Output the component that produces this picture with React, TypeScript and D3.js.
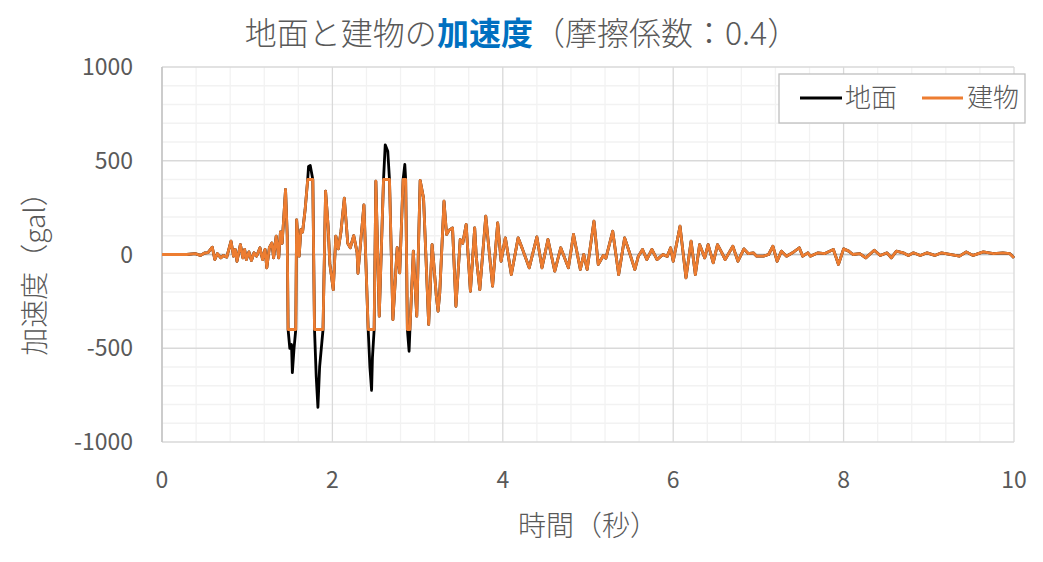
import React from "react";
import * as d3 from "d3";

const times = [
  0, 0.29, 0.39, 0.45, 0.5, 0.54, 0.59, 0.62, 0.65, 0.69, 0.72, 0.76, 0.81, 0.84, 0.86, 0.88, 0.92, 0.95, 0.97, 0.99,
  1.02, 1.05, 1.08, 1.11, 1.15, 1.18, 1.21, 1.23, 1.26, 1.29, 1.31, 1.34, 1.37, 1.39, 1.41, 1.45, 1.47, 1.48, 1.5, 1.52,
  1.53, 1.55, 1.57, 1.58, 1.61, 1.63, 1.65, 1.68, 1.71, 1.72, 1.74, 1.77, 1.79, 1.81, 1.83, 1.85, 1.89, 1.92, 1.95, 1.97,
  2.01, 2.04, 2.07, 2.1, 2.14, 2.18, 2.21, 2.25, 2.29, 2.3, 2.37, 2.39, 2.42, 2.44, 2.46, 2.47, 2.49, 2.51, 2.55, 2.6,
  2.62, 2.65, 2.67, 2.71, 2.73, 2.76, 2.79, 2.83, 2.85, 2.86, 2.88, 2.9, 2.91, 2.95, 2.99, 3.03, 3.07, 3.13, 3.17, 3.19,
  3.22, 3.24, 3.26, 3.31, 3.34, 3.37, 3.41, 3.45, 3.5, 3.53, 3.57, 3.62, 3.67, 3.69, 3.73, 3.8, 3.88, 3.94, 3.98, 4.03,
  4.1, 4.18, 4.23, 4.31, 4.4, 4.46, 4.53, 4.61, 4.68, 4.77, 4.83, 4.91, 4.95, 4.99, 5.07, 5.12, 5.18, 5.21, 5.29, 5.36,
  5.43, 5.48, 5.55, 5.59, 5.64, 5.69, 5.75, 5.81, 5.88, 5.93, 5.97, 6.0, 6.08, 6.15, 6.21, 6.26, 6.31, 6.37, 6.41, 6.47,
  6.52, 6.57, 6.61, 6.7, 6.76, 6.83, 6.88, 6.94, 6.98, 7.06, 7.12, 7.17, 7.22, 7.27, 7.33, 7.4, 7.48, 7.52, 7.58, 7.61,
  7.7, 7.78, 7.88, 7.94, 8.0, 8.06, 8.11, 8.19, 8.26, 8.36, 8.43, 8.51, 8.56, 8.62, 8.7, 8.76, 8.82, 8.9, 8.98, 9.07,
  9.15, 9.36, 9.44, 9.52, 9.64, 9.76, 9.87, 9.95, 10.0,
];

const groundAccel = [
  0, 0, 5, -5, 8, 10, 39, -27, 5, -18, -5, -14, 71, -9, 27, -36, 53, -18, 27, -27,
  14, -32, 9, -9, 36, -27, 27, -71, 36, 62, -18, 98, -18, 120, 60, 347, 100, -400, -500, -480,
  -630, -500, -400, 185, -9, 133, 120, 240, 400, 470, 475, 400, -400, -650, -815, -600, -400, 338, 150, -50,
  -187, 98, 30, 120, 300, 60, 36, 101, 10, -100, 265, 0, -400, -600, -725, -550, -400, 391, -329, 400,
  585, 550, 400, -347, -200, 36, -98, 400, 480, 400, -400, -516, -400, 18, -329, 395, 300, -373, 53, -50,
  -222, -302, -204, 284, 107, 130, 142, -276, 80, 60, 160, -196, 142, -20, -187, 204, -169, 169, -36, 89,
  -107, 89, 30, -71, 94, -71, 80, -89, 36, -71, 107, -80, 0, -80, 178, -53, -5, -20, 124, -107,
  89, 20, -80, -10, 27, -27, 27, -27, 0, -10, 36, -36, 151, -124, 71, -107, 53, -18, 53, -44,
  53, 10, -27, 44, -36, 30, 5, 9, -9, -9, 0, 44, -36, 18, -9, 9, 36, -9, 9, -9,
  9, 5, 27, -53, 30, 18, 0, 5, -18, 23, -5, 9, -18, 18, 9, -5, 9, -5, 9, -5,
  9, -9, 14, -5, 14, 5, 9, 5, -18,
];

const buildingAccel = [
  0, 0, 5, -5, 8, 10, 39, -27, 5, -18, -5, -14, 71, -9, 27, -36, 53, -18, 27, -27,
  14, -32, 9, -9, 36, -27, 27, -71, 36, 62, -18, 98, -18, 120, 60, 347, 100, -400, -400, -400,
  -400, -400, -400, 185, -9, 133, 120, 240, 400, 400, 400, 400, -400, -400, -400, -400, -400, 338, 150, -50,
  -187, 98, 30, 120, 300, 60, 36, 101, 10, -100, 265, 0, -400, -400, -400, -400, -400, 391, -329, 400,
  400, 400, 400, -347, -200, 36, -98, 400, 400, 400, -400, -400, -400, 18, -329, 395, 300, -373, 53, -50,
  -222, -302, -204, 284, 107, 130, 142, -276, 80, 60, 160, -196, 142, -20, -187, 204, -169, 169, -36, 89,
  -107, 89, 30, -71, 94, -71, 80, -89, 36, -71, 107, -80, 0, -80, 178, -53, -5, -20, 124, -107,
  89, 20, -80, -10, 27, -27, 27, -27, 0, -10, 36, -36, 151, -124, 71, -107, 53, -18, 53, -44,
  53, 10, -27, 44, -36, 30, 5, 9, -9, -9, 0, 44, -36, 18, -9, 9, 36, -9, 9, -9,
  9, 5, 27, -53, 30, 18, 0, 5, -18, 23, -5, 9, -18, 18, 9, -5, 9, -5, 9, -5,
  9, -9, 14, -5, 14, 5, 9, 5, -18,
];

const xTicks = [0, 2, 4, 6, 8, 10];
const yTicks = [1000, 500, 0, -500, -1000];
const seriesNames = ["地面", "建物"];

const W = 1043;
const H = 562;
const FONT = "'Noto Sans CJK JP', 'Noto Sans', sans-serif";
const GRAY = "#595959";

export default function App() {
  const x = d3.scaleLinear().domain([0, 10]).range([162, 1014]);
  const y = d3.scaleLinear().domain([-1000, 1000]).range([442, 67]);

  const minorX = d3.range(0, 10.001, 0.4).filter((v) => Math.abs(v / 2 - Math.round(v / 2)) > 1e-6);
  const minorY = d3.range(-1000, 1001, 100).filter((v) => v % 500 !== 0);

  const line = d3
    .line<number>()
    .x((_, i) => x(times[i]))
    .y((d) => y(d));

  return (
    <svg width={W} height={H} style={{ position: "absolute", left: 0, top: 0, background: "#fff" }}>
      <rect x={0} y={0} width={W} height={H} fill="#fff" />
      {minorX.map((v) => (
        <line key={"mx" + v} x1={x(v)} x2={x(v)} y1={y(1000)} y2={y(-1000)} stroke="#f2f2f2" strokeWidth={1.3} />
      ))}
      {minorY.map((v) => (
        <line key={"my" + v} x1={x(0)} x2={x(10)} y1={y(v)} y2={y(v)} stroke="#f2f2f2" strokeWidth={1.3} />
      ))}
      {xTicks.map((v) => (
        <line key={"gx" + v} x1={x(v)} x2={x(v)} y1={y(1000)} y2={y(-1000)} stroke="#d9d9d9" strokeWidth={1.3} />
      ))}
      {yTicks.map((v) => (
        <line key={"gy" + v} x1={x(0)} x2={x(10)} y1={y(v)} y2={y(v)} stroke="#d9d9d9" strokeWidth={1.3} />
      ))}
      <line x1={x(0)} x2={x(0)} y1={y(1000)} y2={y(-1000)} stroke="#bfbfbf" strokeWidth={1.3} />
      <line x1={x(0)} x2={x(10)} y1={y(0)} y2={y(0)} stroke="#bfbfbf" strokeWidth={1.3} />

      <path d={line(groundAccel) || ""} fill="none" stroke="#000" strokeWidth={2.8} strokeLinejoin="round" />
      <path d={line(buildingAccel) || ""} fill="none" stroke="#ED7D31" strokeWidth={2.8} strokeLinejoin="round" />

      {yTicks.map((v) => (
        <text key={"yl" + v} x={133} y={y(v)} dy="0.35em" textAnchor="end" fontFamily={FONT} fontSize={23} fill={GRAY}>
          {v}
        </text>
      ))}
      {xTicks.map((v) => (
        <text key={"xl" + v} x={x(v)} y={488} textAnchor="middle" fontFamily={FONT} fontSize={23} fill={GRAY}>
          {v}
        </text>
      ))}

      <text x={588} y={536} textAnchor="middle" fontFamily={FONT} fontSize={28} fontWeight={300} fill={GRAY}>
        時間（秒）
      </text>
      <text
        transform="translate(45,267) rotate(-90)"
        textAnchor="middle"
        fontFamily={FONT}
        fontSize={28}
        fontWeight={300}
        fill={GRAY}
      >
        加速度（gal）
      </text>

      <text x={522} y={45} textAnchor="middle" fontFamily={FONT} fontSize={32} fill={GRAY}>
        <tspan fontWeight={300}>地面と建物の</tspan>
        <tspan fill="#0070C0" fontWeight="bold">加速度</tspan>
        <tspan fontWeight={300}>（摩擦係数：0.4）</tspan>
      </text>

      <rect x={779} y={74} width={246} height={49} fill="#fff" stroke="#bfbfbf" strokeWidth={1.3} />
      <line x1={800} x2={842} y1={98} y2={98} stroke="#000" strokeWidth={2.8} />
      <text x={845} y={98} dy="0.35em" fontFamily={FONT} fontSize={26} fontWeight={300} fill={GRAY}>
        {seriesNames[0]}
      </text>
      <line x1={922} x2={963} y1={98} y2={98} stroke="#ED7D31" strokeWidth={2.8} />
      <text x={967} y={98} dy="0.35em" fontFamily={FONT} fontSize={26} fontWeight={300} fill={GRAY}>
        {seriesNames[1]}
      </text>
    </svg>
  );
}
